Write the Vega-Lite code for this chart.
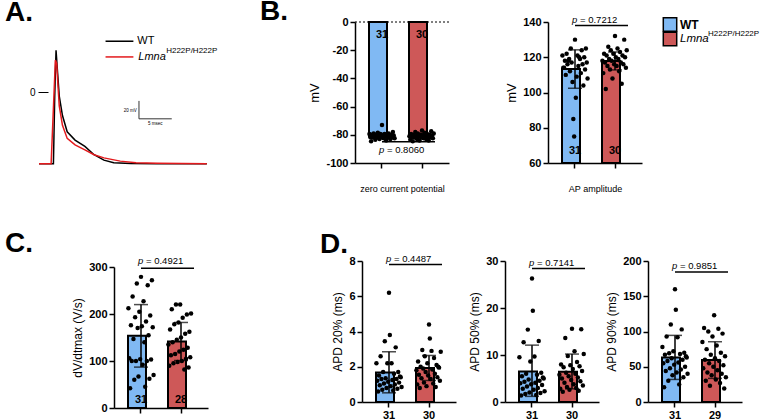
{
"$schema":"https://vega.github.io/schema/vega-lite/v6.json",
"padding":{"left":5,"top":-2,"right":2,"bottom":2},
"config":{
 "font":"Liberation Sans",
 "view":{"stroke":null},
 "axis":{"domainColor":"black","domainWidth":1.5,"tickColor":"black","tickWidth":1.5,"tickSize":5,"labelColor":"black","labelFontSize":11,"labelFontWeight":"bold","labelPadding":2,"labelOverlap":false,"titleColor":"black","titleFontSize":12,"titleFontWeight":"normal","grid":false},
 "title":{"fontSize":28,"fontWeight":"bold","anchor":"start","frame":"group","offset":0,"color":"black"}
},
"datasets":{
 "trace":[
  {"s":"WT","t":0,"v":-81.5},{"s":"WT","t":2.2,"v":-81.5},{"s":"WT","t":2.4,"v":-4.3},{"s":"WT","t":2.6,"v":47.7},{"s":"WT","t":2.84,"v":21.7},{"s":"WT","t":3.09,"v":-4.3},{"s":"WT","t":3.58,"v":-26.6},{"s":"WT","t":4.3,"v":-45.1},{"s":"WT","t":5.5,"v":-54.5},{"s":"WT","t":7.0,"v":-61.8},{"s":"WT","t":8.4,"v":-71.2},{"s":"WT","t":9.9,"v":-77.4},{"s":"WT","t":11.4,"v":-80.4},{"s":"WT","t":14,"v":-81.2},{"s":"WT","t":18,"v":-81.5},{"s":"WT","t":25.6,"v":-81.5},
  {"s":"Lmna","t":0,"v":-81.5},{"s":"Lmna","t":1.85,"v":-81.5},{"s":"Lmna","t":2.5,"v":36.6},{"s":"Lmna","t":2.7,"v":32.9},{"s":"Lmna","t":2.84,"v":14.3},{"s":"Lmna","t":3.09,"v":-15.5},{"s":"Lmna","t":3.58,"v":-37.7},{"s":"Lmna","t":4.3,"v":-52.6},{"s":"Lmna","t":5.5,"v":-60},{"s":"Lmna","t":7.0,"v":-65.6},{"s":"Lmna","t":8.4,"v":-71.2},{"s":"Lmna","t":9.9,"v":-74.8},{"s":"Lmna","t":12.4,"v":-78.5},{"s":"Lmna","t":14.8,"v":-80.4},{"s":"Lmna","t":18,"v":-81},{"s":"Lmna","t":25.6,"v":-81.5}
 ],
 "sum":[
  {"p":"B1","g":"WT","m":-81,"lo":-83,"hi":-79,"n":"31"},{"p":"B1","g":"Lmna","m":-81,"lo":-82.9,"hi":-79.1,"n":"30"},
  {"p":"B2","g":"WT","m":113.3,"lo":102.4,"hi":124.2,"n":"31"},{"p":"B2","g":"Lmna","m":117.9,"lo":112.8,"hi":123,"n":"30"},
  {"p":"C","g":"WT","m":153.5,"lo":87,"hi":220,"n":"31"},{"p":"C","g":"Lmna","m":141.5,"lo":101,"hi":182,"n":"28"},
  {"p":"D1","g":"WT","m":1.67,"lo":0.52,"hi":2.85,"n":"31"},{"p":"D1","g":"Lmna","m":1.93,"lo":1.22,"hi":2.64,"n":"30"},
  {"p":"D2","g":"WT","m":6.5,"lo":1.2,"hi":12.1,"n":"31"},{"p":"D2","g":"Lmna","m":6.45,"lo":2.8,"hi":10.2,"n":"30"},
  {"p":"D3","g":"WT","m":63,"lo":32,"hi":94.5,"n":"31"},{"p":"D3","g":"Lmna","m":59.5,"lo":33.5,"hi":85.5,"n":"29"}
 ],
 "pts":[
  {"p":"B1","g":"WT","v":-79.5},{"p":"B1","g":"WT","v":-81.5},{"p":"B1","g":"WT","v":-84.5},{"p":"B1","g":"WT","v":-80},{"p":"B1","g":"WT","v":-82},{"p":"B1","g":"WT","v":-79},{"p":"B1","g":"WT","v":-81},{"p":"B1","g":"WT","v":-83.5},{"p":"B1","g":"WT","v":-80},{"p":"B1","g":"WT","v":-82},{"p":"B1","g":"WT","v":-78.5},{"p":"B1","g":"WT","v":-81},{"p":"B1","g":"WT","v":-83},{"p":"B1","g":"WT","v":-79.5},{"p":"B1","g":"WT","v":-81.5},{"p":"B1","g":"WT","v":-73},{"p":"B1","g":"WT","v":-80.5},{"p":"B1","g":"WT","v":-82.5},{"p":"B1","g":"WT","v":-79.5},{"p":"B1","g":"WT","v":-81},{"p":"B1","g":"WT","v":-84},{"p":"B1","g":"WT","v":-80},{"p":"B1","g":"WT","v":-82},{"p":"B1","g":"WT","v":-79},{"p":"B1","g":"WT","v":-81},{"p":"B1","g":"WT","v":-83},{"p":"B1","g":"WT","v":-80},{"p":"B1","g":"WT","v":-82},{"p":"B1","g":"WT","v":-78},{"p":"B1","g":"WT","v":-80.5},{"p":"B1","g":"WT","v":-82.5},
  {"p":"B1","g":"Lmna","v":-81},{"p":"B1","g":"Lmna","v":-83.5},{"p":"B1","g":"Lmna","v":-79.5},{"p":"B1","g":"Lmna","v":-81.5},{"p":"B1","g":"Lmna","v":-84.5},{"p":"B1","g":"Lmna","v":-80},{"p":"B1","g":"Lmna","v":-82},{"p":"B1","g":"Lmna","v":-78},{"p":"B1","g":"Lmna","v":-81},{"p":"B1","g":"Lmna","v":-83},{"p":"B1","g":"Lmna","v":-79},{"p":"B1","g":"Lmna","v":-81},{"p":"B1","g":"Lmna","v":-84},{"p":"B1","g":"Lmna","v":-80},{"p":"B1","g":"Lmna","v":-82},{"p":"B1","g":"Lmna","v":-77},{"p":"B1","g":"Lmna","v":-80.5},{"p":"B1","g":"Lmna","v":-82.5},{"p":"B1","g":"Lmna","v":-78.5},{"p":"B1","g":"Lmna","v":-81},{"p":"B1","g":"Lmna","v":-83},{"p":"B1","g":"Lmna","v":-79.5},{"p":"B1","g":"Lmna","v":-81.5},{"p":"B1","g":"Lmna","v":-84},{"p":"B1","g":"Lmna","v":-80},{"p":"B1","g":"Lmna","v":-82},{"p":"B1","g":"Lmna","v":-77.5},{"p":"B1","g":"Lmna","v":-80.5},{"p":"B1","g":"Lmna","v":-82.5},{"p":"B1","g":"Lmna","v":-79},
  {"p":"B2","g":"WT","v":121},{"p":"B2","g":"WT","v":114},{"p":"B2","g":"WT","v":114},{"p":"B2","g":"WT","v":118},{"p":"B2","g":"WT","v":110},{"p":"B2","g":"WT","v":122},{"p":"B2","g":"WT","v":116},{"p":"B2","g":"WT","v":118},{"p":"B2","g":"WT","v":119},{"p":"B2","g":"WT","v":112},{"p":"B2","g":"WT","v":125},{"p":"B2","g":"WT","v":117},{"p":"B2","g":"WT","v":106},{"p":"B2","g":"WT","v":85},{"p":"B2","g":"WT","v":75},{"p":"B2","g":"WT","v":130},{"p":"B2","g":"WT","v":97},{"p":"B2","g":"WT","v":109},{"p":"B2","g":"WT","v":121},{"p":"B2","g":"WT","v":115},{"p":"B2","g":"WT","v":120},{"p":"B2","g":"WT","v":119},{"p":"B2","g":"WT","v":111},{"p":"B2","g":"WT","v":124},{"p":"B2","g":"WT","v":116},{"p":"B2","g":"WT","v":104},{"p":"B2","g":"WT","v":120},{"p":"B2","g":"WT","v":113},{"p":"B2","g":"WT","v":125},{"p":"B2","g":"WT","v":117},{"p":"B2","g":"WT","v":108},
  {"p":"B2","g":"Lmna","v":118},{"p":"B2","g":"Lmna","v":111},{"p":"B2","g":"Lmna","v":122},{"p":"B2","g":"Lmna","v":117},{"p":"B2","g":"Lmna","v":102},{"p":"B2","g":"Lmna","v":121},{"p":"B2","g":"Lmna","v":115},{"p":"B2","g":"Lmna","v":126},{"p":"B2","g":"Lmna","v":119},{"p":"B2","g":"Lmna","v":113},{"p":"B2","g":"Lmna","v":124},{"p":"B2","g":"Lmna","v":118},{"p":"B2","g":"Lmna","v":108},{"p":"B2","g":"Lmna","v":122},{"p":"B2","g":"Lmna","v":116},{"p":"B2","g":"Lmna","v":132},{"p":"B2","g":"Lmna","v":120},{"p":"B2","g":"Lmna","v":115},{"p":"B2","g":"Lmna","v":125},{"p":"B2","g":"Lmna","v":119},{"p":"B2","g":"Lmna","v":112},{"p":"B2","g":"Lmna","v":123},{"p":"B2","g":"Lmna","v":117},{"p":"B2","g":"Lmna","v":105},{"p":"B2","g":"Lmna","v":121},{"p":"B2","g":"Lmna","v":116},{"p":"B2","g":"Lmna","v":130},{"p":"B2","g":"Lmna","v":120},{"p":"B2","g":"Lmna","v":114},{"p":"B2","g":"Lmna","v":124},
  {"p":"C","g":"WT","v":212},{"p":"C","g":"WT","v":106},{"p":"C","g":"WT","v":42},{"p":"C","g":"WT","v":176},{"p":"C","g":"WT","v":100},{"p":"C","g":"WT","v":237},{"p":"C","g":"WT","v":147},{"p":"C","g":"WT","v":60},{"p":"C","g":"WT","v":193},{"p":"C","g":"WT","v":100},{"p":"C","g":"WT","v":265},{"p":"C","g":"WT","v":170},{"p":"C","g":"WT","v":67},{"p":"C","g":"WT","v":205},{"p":"C","g":"WT","v":104},{"p":"C","g":"WT","v":279},{"p":"C","g":"WT","v":174},{"p":"C","g":"WT","v":92},{"p":"C","g":"WT","v":227},{"p":"C","g":"WT","v":140},{"p":"C","g":"WT","v":45},{"p":"C","g":"WT","v":184},{"p":"C","g":"WT","v":100},{"p":"C","g":"WT","v":261},{"p":"C","g":"WT","v":155},{"p":"C","g":"WT","v":62},{"p":"C","g":"WT","v":197},{"p":"C","g":"WT","v":103},{"p":"C","g":"WT","v":272},{"p":"C","g":"WT","v":172},{"p":"C","g":"WT","v":70},
  {"p":"C","g":"Lmna","v":135},{"p":"C","g":"Lmna","v":90},{"p":"C","g":"Lmna","v":167},{"p":"C","g":"Lmna","v":112},{"p":"C","g":"Lmna","v":210},{"p":"C","g":"Lmna","v":140},{"p":"C","g":"Lmna","v":95},{"p":"C","g":"Lmna","v":178},{"p":"C","g":"Lmna","v":115},{"p":"C","g":"Lmna","v":220},{"p":"C","g":"Lmna","v":145},{"p":"C","g":"Lmna","v":98},{"p":"C","g":"Lmna","v":182},{"p":"C","g":"Lmna","v":120},{"p":"C","g":"Lmna","v":220},{"p":"C","g":"Lmna","v":150},{"p":"C","g":"Lmna","v":100},{"p":"C","g":"Lmna","v":192},{"p":"C","g":"Lmna","v":124},{"p":"C","g":"Lmna","v":82},{"p":"C","g":"Lmna","v":158},{"p":"C","g":"Lmna","v":105},{"p":"C","g":"Lmna","v":199},{"p":"C","g":"Lmna","v":128},{"p":"C","g":"Lmna","v":86},{"p":"C","g":"Lmna","v":162},{"p":"C","g":"Lmna","v":108},{"p":"C","g":"Lmna","v":201},
  {"p":"D1","g":"WT","v":2.2},{"p":"D1","g":"WT","v":1.2},{"p":"D1","g":"WT","v":0.6},{"p":"D1","g":"WT","v":1.5},{"p":"D1","g":"WT","v":0.95},{"p":"D1","g":"WT","v":2.6},{"p":"D1","g":"WT","v":1.3},{"p":"D1","g":"WT","v":0.7},{"p":"D1","g":"WT","v":1.7},{"p":"D1","g":"WT","v":1.05},{"p":"D1","g":"WT","v":3.45},{"p":"D1","g":"WT","v":1.35},{"p":"D1","g":"WT","v":0.8},{"p":"D1","g":"WT","v":2.2},{"p":"D1","g":"WT","v":1.15},{"p":"D1","g":"WT","v":6.2},{"p":"D1","g":"WT","v":3.8},{"p":"D1","g":"WT","v":0.9},{"p":"D1","g":"WT","v":2.2},{"p":"D1","g":"WT","v":1.25},{"p":"D1","g":"WT","v":0.65},{"p":"D1","g":"WT","v":1.6},{"p":"D1","g":"WT","v":1.0},{"p":"D1","g":"WT","v":3.1},{"p":"D1","g":"WT","v":1.3},{"p":"D1","g":"WT","v":0.75},{"p":"D1","g":"WT","v":1.7},{"p":"D1","g":"WT","v":1.1},{"p":"D1","g":"WT","v":1.45},{"p":"D1","g":"WT","v":1.4},{"p":"D1","g":"WT","v":0.85},
  {"p":"D1","g":"Lmna","v":1.8},{"p":"D1","g":"Lmna","v":1.0},{"p":"D1","g":"Lmna","v":2.3},{"p":"D1","g":"Lmna","v":1.55},{"p":"D1","g":"Lmna","v":0.8},{"p":"D1","g":"Lmna","v":2.0},{"p":"D1","g":"Lmna","v":1.35},{"p":"D1","g":"Lmna","v":2.95},{"p":"D1","g":"Lmna","v":1.9},{"p":"D1","g":"Lmna","v":1.1},{"p":"D1","g":"Lmna","v":2.6},{"p":"D1","g":"Lmna","v":1.7},{"p":"D1","g":"Lmna","v":0.9},{"p":"D1","g":"Lmna","v":2.2},{"p":"D1","g":"Lmna","v":1.5},{"p":"D1","g":"Lmna","v":4.4},{"p":"D1","g":"Lmna","v":3.6},{"p":"D1","g":"Lmna","v":1.3},{"p":"D1","g":"Lmna","v":2.9},{"p":"D1","g":"Lmna","v":1.85},{"p":"D1","g":"Lmna","v":1.05},{"p":"D1","g":"Lmna","v":2.5},{"p":"D1","g":"Lmna","v":1.6},{"p":"D1","g":"Lmna","v":0.85},{"p":"D1","g":"Lmna","v":2.1},{"p":"D1","g":"Lmna","v":1.4},{"p":"D1","g":"Lmna","v":2.0},{"p":"D1","g":"Lmna","v":1.95},{"p":"D1","g":"Lmna","v":1.2},{"p":"D1","g":"Lmna","v":2.85},
  {"p":"D2","g":"WT","v":9.5},{"p":"D2","g":"WT","v":4.0},{"p":"D2","g":"WT","v":1.4},{"p":"D2","g":"WT","v":5.5},{"p":"D2","g":"WT","v":2.8},{"p":"D2","g":"WT","v":12.7},{"p":"D2","g":"WT","v":4.3},{"p":"D2","g":"WT","v":1.7},{"p":"D2","g":"WT","v":6.0},{"p":"D2","g":"WT","v":3.3},{"p":"D2","g":"WT","v":15.4},{"p":"D2","g":"WT","v":4.8},{"p":"D2","g":"WT","v":2.0},{"p":"D2","g":"WT","v":8.6},{"p":"D2","g":"WT","v":3.8},{"p":"D2","g":"WT","v":26.3},{"p":"D2","g":"WT","v":19.4},{"p":"D2","g":"WT","v":2.6},{"p":"D2","g":"WT","v":9.7},{"p":"D2","g":"WT","v":4.1},{"p":"D2","g":"WT","v":1.5},{"p":"D2","g":"WT","v":5.8},{"p":"D2","g":"WT","v":3.0},{"p":"D2","g":"WT","v":13.0},{"p":"D2","g":"WT","v":4.5},{"p":"D2","g":"WT","v":1.9},{"p":"D2","g":"WT","v":6.2},{"p":"D2","g":"WT","v":3.6},{"p":"D2","g":"WT","v":5.2},{"p":"D2","g":"WT","v":5.0},{"p":"D2","g":"WT","v":2.3},
  {"p":"D2","g":"Lmna","v":5.8},{"p":"D2","g":"Lmna","v":2.8},{"p":"D2","g":"Lmna","v":8.0},{"p":"D2","g":"Lmna","v":5.0},{"p":"D2","g":"Lmna","v":2.2},{"p":"D2","g":"Lmna","v":7.4},{"p":"D2","g":"Lmna","v":4.1},{"p":"D2","g":"Lmna","v":13.6},{"p":"D2","g":"Lmna","v":6.2},{"p":"D2","g":"Lmna","v":3.2},{"p":"D2","g":"Lmna","v":9.8},{"p":"D2","g":"Lmna","v":5.5},{"p":"D2","g":"Lmna","v":2.6},{"p":"D2","g":"Lmna","v":7.8},{"p":"D2","g":"Lmna","v":4.7},{"p":"D2","g":"Lmna","v":15.6},{"p":"D2","g":"Lmna","v":7.0},{"p":"D2","g":"Lmna","v":3.8},{"p":"D2","g":"Lmna","v":10.8},{"p":"D2","g":"Lmna","v":6.0},{"p":"D2","g":"Lmna","v":3.0},{"p":"D2","g":"Lmna","v":8.5},{"p":"D2","g":"Lmna","v":5.2},{"p":"D2","g":"Lmna","v":2.4},{"p":"D2","g":"Lmna","v":7.6},{"p":"D2","g":"Lmna","v":4.4},{"p":"D2","g":"Lmna","v":15.5},{"p":"D2","g":"Lmna","v":6.6},{"p":"D2","g":"Lmna","v":3.5},{"p":"D2","g":"Lmna","v":10.2},
  {"p":"D3","g":"WT","v":78},{"p":"D3","g":"WT","v":55},{"p":"D3","g":"WT","v":21},{"p":"D3","g":"WT","v":67},{"p":"D3","g":"WT","v":44},{"p":"D3","g":"WT","v":93},{"p":"D3","g":"WT","v":58},{"p":"D3","g":"WT","v":30},{"p":"D3","g":"WT","v":69},{"p":"D3","g":"WT","v":48},{"p":"D3","g":"WT","v":110},{"p":"D3","g":"WT","v":62},{"p":"D3","g":"WT","v":38},{"p":"D3","g":"WT","v":72},{"p":"D3","g":"WT","v":53},{"p":"D3","g":"WT","v":160},{"p":"D3","g":"WT","v":131},{"p":"D3","g":"WT","v":42},{"p":"D3","g":"WT","v":92},{"p":"D3","g":"WT","v":56},{"p":"D3","g":"WT","v":25},{"p":"D3","g":"WT","v":68},{"p":"D3","g":"WT","v":46},{"p":"D3","g":"WT","v":103},{"p":"D3","g":"WT","v":60},{"p":"D3","g":"WT","v":35},{"p":"D3","g":"WT","v":70},{"p":"D3","g":"WT","v":50},{"p":"D3","g":"WT","v":65},{"p":"D3","g":"WT","v":63},{"p":"D3","g":"WT","v":40},
  {"p":"D3","g":"Lmna","v":85},{"p":"D3","g":"Lmna","v":48},{"p":"D3","g":"Lmna","v":105},{"p":"D3","g":"Lmna","v":60},{"p":"D3","g":"Lmna","v":30},{"p":"D3","g":"Lmna","v":75},{"p":"D3","g":"Lmna","v":42},{"p":"D3","g":"Lmna","v":100},{"p":"D3","g":"Lmna","v":55},{"p":"D3","g":"Lmna","v":23},{"p":"D3","g":"Lmna","v":67},{"p":"D3","g":"Lmna","v":38},{"p":"D3","g":"Lmna","v":93},{"p":"D3","g":"Lmna","v":50},{"p":"D3","g":"Lmna","v":123},{"p":"D3","g":"Lmna","v":62},{"p":"D3","g":"Lmna","v":32},{"p":"D3","g":"Lmna","v":80},{"p":"D3","g":"Lmna","v":45},{"p":"D3","g":"Lmna","v":104},{"p":"D3","g":"Lmna","v":58},{"p":"D3","g":"Lmna","v":27},{"p":"D3","g":"Lmna","v":70},{"p":"D3","g":"Lmna","v":40},{"p":"D3","g":"Lmna","v":97},{"p":"D3","g":"Lmna","v":52},{"p":"D3","g":"Lmna","v":19},{"p":"D3","g":"Lmna","v":65},{"p":"D3","g":"Lmna","v":35}
 ]
},
"spacing":36,
"vconcat":[
 {"spacing":0,"bounds":"flush","hconcat":[
  {"width":295,"height":158,
   "title":{"text":"A.","dx":-34,"dy":31,"baseline":"alphabetic"},
   "layer":[
    {"data":{"name":"trace"},"mark":{"type":"line","strokeWidth":1.5},
     "encoding":{"x":{"field":"t","type":"quantitative","scale":{"domain":[0,43.38]},"axis":null},
      "y":{"field":"v","type":"quantitative","scale":{"domain":[-96,80]},"axis":{"values":[0],"tickCount":20,"domain":false,"tickSize":10,"tickWidth":1,"offset":-9,"labelFontWeight":"normal","labelFontSize":10,"labelPadding":3,"title":null}},
      "stroke":{"field":"s","type":"nominal","scale":{"domain":["WT","Lmna"],"range":["black","#e3191c"]},"legend":null},
      "order":{"field":"t","type":"quantitative"}}},
    {"data":{"values":[{}]},"mark":{"type":"rule","color":"black","strokeWidth":1.5},"encoding":{"x":{"datum":10.15,"axis":null},"x2":{"datum":14.4},"y":{"datum":58.1}}},
    {"data":{"values":[{}]},"mark":{"type":"rule","color":"#e3191c","strokeWidth":1.5},"encoding":{"x":{"datum":10.15,"axis":null},"x2":{"datum":14.4},"y":{"datum":40.2}}},
    {"data":{"values":[{}]},"mark":{"type":"text","text":"WT","align":"left","baseline":"middle","fontSize":11},"encoding":{"x":{"datum":15.0,"axis":null},"y":{"datum":58.1}}},
    {"data":{"values":[{}]},"mark":{"type":"text","text":"Lmna","align":"left","baseline":"middle","fontSize":11,"fontStyle":"italic"},"encoding":{"x":{"datum":15.15,"axis":null},"y":{"datum":40.2}}},
    {"data":{"values":[{}]},"mark":{"type":"text","text":"H222P/H222P","align":"left","baseline":"middle","fontSize":8},"encoding":{"x":{"datum":19.4,"axis":null},"y":{"datum":47.1}}},
    {"data":{"values":[{}]},"mark":{"type":"rule","color":"#333333","strokeWidth":1},"encoding":{"x":{"datum":15.25,"axis":null},"y":{"datum":-9.9},"y2":{"datum":-30.3}}},
    {"data":{"values":[{}]},"mark":{"type":"rule","color":"#333333","strokeWidth":1},"encoding":{"x":{"datum":15.25,"axis":null},"x2":{"datum":20.25},"y":{"datum":-30.3}}},
    {"data":{"values":[{}]},"mark":{"type":"text","text":"20 mV","align":"right","baseline":"middle","fontSize":4.5},"encoding":{"x":{"datum":14.9,"axis":null},"y":{"datum":-21.4}}},
    {"data":{"values":[{}]},"mark":{"type":"text","text":"5 msec","align":"center","baseline":"middle","fontSize":4.5},"encoding":{"x":{"datum":17.75,"axis":null},"y":{"datum":-35.9}}}
   ]},
  {"width":21,"height":1,"data":{"values":[{}]},"mark":{"type":"point","opacity":0},"encoding":{}},
  {"width":94,"height":141,
    "title":{"text":"B.","dx":-95,"dy":36,"baseline":"alphabetic"},
    "layer":[
     {"data":{"name":"sum"},"transform":[{"filter":"datum.p=='B1'"}],"mark":{"type":"bar","stroke":"black","strokeWidth":2},
      "encoding":{"x":{"field":"g","type":"nominal","scale":{"domain":["WT","Lmna"],"paddingInner":0.35,"paddingOuter":0.35},"axis":{"labels":false,"title":"zero current potential","titleFontSize":9,"titlePadding":16}},
       "y":{"field":"m","type":"quantitative","scale":{"domain":[-100,0]},"axis":{"values":[-100,-80,-60,-40,-20,0],"tickCount":20,"format":"d","title":"mV","titleFontSize":13,"labelExpr":"replace(datum.label,'\u2212','-')"}},
       "fill":{"field":"g","type":"nominal","scale":{"domain":["WT","Lmna"],"range":["#80b9f3","#ce5858"]},"legend":null}}},
     {"data":{"values":[{}]},"mark":{"type":"rule","color":"black","strokeWidth":1,"strokeDash":[2,2]},"encoding":{"y":{"datum":0}}},
     {"data":{"name":"pts"},"transform":[{"filter":"datum.p=='B1'"},{"window":[{"op":"row_number","as":"i"}],"groupby":["g"]}],"mark":{"type":"circle","size":20,"color":"black","opacity":1},
      "encoding":{"x":{"field":"g","type":"nominal"},"xOffset":{"field":"i","type":"nominal"},"y":{"field":"v","type":"quantitative"}}},
     {"data":{"name":"sum"},"transform":[{"filter":"datum.p=='B1'"}],"mark":{"type":"rule","color":"black","strokeWidth":1.5},"encoding":{"x":{"field":"g","type":"nominal"},"y":{"field":"lo","type":"quantitative"},"y2":{"field":"hi"}}},
     {"data":{"name":"sum"},"transform":[{"filter":"datum.p=='B1'"}],"mark":{"type":"tick","orient":"horizontal","color":"black","thickness":1.5,"size":14},"encoding":{"x":{"field":"g","type":"nominal"},"y":{"field":"lo","type":"quantitative"}}},
     {"data":{"name":"sum"},"transform":[{"filter":"datum.p=='B1'"}],"mark":{"type":"tick","orient":"horizontal","color":"black","thickness":1.5,"size":14},"encoding":{"x":{"field":"g","type":"nominal"},"y":{"field":"hi","type":"quantitative"}}},
     {"data":{"name":"sum"},"transform":[{"filter":"datum.p=='B1'"}],"mark":{"type":"text","fontWeight":"bold","fontSize":11,"baseline":"alphabetic","dy":16},"encoding":{"x":{"field":"g","type":"nominal"},"y":{"datum":0},"text":{"field":"n"}}},
     {"data":{"values":[{}]},"mark":{"type":"rule","color":"black","strokeWidth":1.5,"x2Offset":13},"encoding":{"x":{"datum":"WT"},"x2":{"datum":"Lmna"},"y":{"datum":-85}}},
     {"data":{"values":[{}]},"mark":{"type":"text","text":"p","fontStyle":"italic","fontSize":9.5,"align":"left","baseline":"alphabetic","dx":-3,"dy":11},"encoding":{"x":{"datum":"WT"},"y":{"datum":-85}}},
     {"data":{"values":[{}]},"mark":{"type":"text","text":"= 0.8060","fontSize":9.5,"align":"left","baseline":"alphabetic","dx":5,"dy":11},"encoding":{"x":{"datum":"WT"},"y":{"datum":-85}}}
    ]},
  {"width":99,"height":1,"data":{"values":[{}]},"mark":{"type":"point","opacity":0},"encoding":{}},
  {"width":94,"height":141,
    "layer":[
     {"data":{"name":"sum"},"transform":[{"filter":"datum.p=='B2'"}],"mark":{"type":"bar","stroke":"black","strokeWidth":2},
      "encoding":{"x":{"field":"g","type":"nominal","scale":{"domain":["WT","Lmna"],"paddingInner":0.35,"paddingOuter":0.35},"axis":{"labels":false,"title":"AP amplitude","titleFontSize":9,"titlePadding":16}},
       "y":{"field":"m","type":"quantitative","scale":{"domain":[60,140]},"axis":{"values":[60,80,100,120,140],"tickCount":20,"format":"d","title":"mV","titleFontSize":13}},
       "y2":{"datum":60},
       "fill":{"field":"g","type":"nominal","scale":{"domain":["WT","Lmna"],"range":["#80b9f3","#ce5858"]},"legend":null}}},
     {"data":{"name":"pts"},"transform":[{"filter":"datum.p=='B2'"},{"window":[{"op":"row_number","as":"i"}],"groupby":["g"]}],"mark":{"type":"circle","size":20,"color":"black","opacity":1},
      "encoding":{"x":{"field":"g","type":"nominal"},"xOffset":{"field":"i","type":"nominal"},"y":{"field":"v","type":"quantitative"}}},
     {"data":{"name":"sum"},"transform":[{"filter":"datum.p=='B2'"}],"mark":{"type":"rule","color":"black","strokeWidth":1.5},"encoding":{"x":{"field":"g","type":"nominal"},"y":{"field":"lo","type":"quantitative"},"y2":{"field":"hi"}}},
     {"data":{"name":"sum"},"transform":[{"filter":"datum.p=='B2'"}],"mark":{"type":"tick","orient":"horizontal","color":"black","thickness":1.5,"size":14},"encoding":{"x":{"field":"g","type":"nominal"},"y":{"field":"lo","type":"quantitative"}}},
     {"data":{"name":"sum"},"transform":[{"filter":"datum.p=='B2'"}],"mark":{"type":"tick","orient":"horizontal","color":"black","thickness":1.5,"size":14},"encoding":{"x":{"field":"g","type":"nominal"},"y":{"field":"hi","type":"quantitative"}}},
     {"data":{"name":"sum"},"transform":[{"filter":"datum.p=='B2'"}],"mark":{"type":"text","fontWeight":"bold","fontSize":11,"baseline":"alphabetic","dy":-9},"encoding":{"x":{"field":"g","type":"nominal"},"y":{"datum":60},"text":{"field":"n"}}},
     {"data":{"values":[{}]},"mark":{"type":"rule","color":"black","strokeWidth":1.5,"x2Offset":13},"encoding":{"x":{"datum":"WT"},"x2":{"datum":"Lmna"},"y":{"datum":138}}},
     {"data":{"values":[{}]},"mark":{"type":"text","text":"p","fontStyle":"italic","fontSize":9.5,"align":"left","baseline":"alphabetic","dx":-3,"dy":-3},"encoding":{"x":{"datum":"WT"},"y":{"datum":138}}},
     {"data":{"values":[{}]},"mark":{"type":"text","text":"= 0.7212","fontSize":9.5,"align":"left","baseline":"alphabetic","dx":5,"dy":-3},"encoding":{"x":{"datum":"WT"},"y":{"datum":138}}}
    ]},
  {"width":21,"height":1,"data":{"values":[{}]},"mark":{"type":"point","opacity":0},"encoding":{}},
  {"width":100,"height":20,"data":{"values":[{}]},
   "layer":[
    {"mark":{"type":"square","size":180,"filled":true,"stroke":"black","strokeWidth":1.5,"opacity":1},"encoding":{"x":{"datum":7,"type":"quantitative","scale":{"domain":[0,100]},"axis":null},"y":{"datum":17.5,"type":"quantitative","scale":{"domain":[0,20]},"axis":null},"fill":{"datum":"WT","type":"nominal","scale":{"domain":["WT","Lmna"],"range":["#80b9f3","#ce5858"]},"legend":null}}},
    {"mark":{"type":"square","size":180,"filled":true,"stroke":"black","strokeWidth":1.5,"opacity":1},"encoding":{"x":{"datum":7,"axis":null},"y":{"datum":3,"axis":null},"fill":{"datum":"Lmna","type":"nominal","legend":null}}},
    {"mark":{"type":"text","text":"WT","align":"left","baseline":"middle","fontSize":12,"fontWeight":"bold"},"encoding":{"x":{"datum":17,"axis":null},"y":{"datum":17.5,"axis":null}}},
    {"mark":{"type":"text","text":"Lmna","align":"left","baseline":"middle","fontSize":11.5,"fontStyle":"italic"},"encoding":{"x":{"datum":17,"axis":null},"y":{"datum":3,"axis":null}}},
    {"mark":{"type":"text","text":"H222P/H222P","align":"left","baseline":"middle","fontSize":8},"encoding":{"x":{"datum":45,"axis":null},"y":{"datum":8,"axis":null}}}
   ]}
 ]},
 {"spacing":0,"bounds":"flush","hconcat":[
  {"width":75,"height":1,"data":{"values":[{}]},"mark":{"type":"point","opacity":0},"encoding":{}},
  {"width":94,"height":147,
     "title":{"text":"C.","dx":-109,"dy":28,"baseline":"alphabetic"},
     "layer":[
      {"data":{"name":"sum"},"transform":[{"filter":"datum.p=='C'"}],"mark":{"type":"bar","stroke":"black","strokeWidth":2},
       "encoding":{"x":{"field":"g","type":"nominal","scale":{"domain":["WT","Lmna"],"paddingInner":0.35,"paddingOuter":0.35},"axis":{"labels":false,"title":null}},
        "y":{"field":"m","type":"quantitative","scale":{"domain":[0,300],"range":[147,6]},"axis":{"values":[0,100,200,300],"tickCount":20,"format":"d","title":"dV/dtmax (V/s)"}},
        "fill":{"field":"g","type":"nominal","scale":{"domain":["WT","Lmna"],"range":["#80b9f3","#ce5858"]},"legend":null}}},
      {"data":{"name":"pts"},"transform":[{"filter":"datum.p=='C'"},{"window":[{"op":"row_number","as":"i"}],"groupby":["g"]}],"mark":{"type":"circle","size":20,"color":"black","opacity":1},
       "encoding":{"x":{"field":"g","type":"nominal"},"xOffset":{"field":"i","type":"nominal"},"y":{"field":"v","type":"quantitative"}}},
      {"data":{"name":"sum"},"transform":[{"filter":"datum.p=='C'"}],"mark":{"type":"rule","color":"black","strokeWidth":1.5},"encoding":{"x":{"field":"g","type":"nominal"},"y":{"field":"lo","type":"quantitative"},"y2":{"field":"hi"}}},
      {"data":{"name":"sum"},"transform":[{"filter":"datum.p=='C'"}],"mark":{"type":"tick","orient":"horizontal","color":"black","thickness":1.5,"size":14},"encoding":{"x":{"field":"g","type":"nominal"},"y":{"field":"lo","type":"quantitative"}}},
      {"data":{"name":"sum"},"transform":[{"filter":"datum.p=='C'"}],"mark":{"type":"tick","orient":"horizontal","color":"black","thickness":1.5,"size":14},"encoding":{"x":{"field":"g","type":"nominal"},"y":{"field":"hi","type":"quantitative"}}},
      {"data":{"name":"sum"},"transform":[{"filter":"datum.p=='C'"}],"mark":{"type":"text","fontWeight":"bold","fontSize":11,"baseline":"alphabetic","dy":-5},"encoding":{"x":{"field":"g","type":"nominal"},"y":{"datum":0},"text":{"field":"n"}}},
      {"data":{"values":[{}]},"mark":{"type":"rule","color":"black","strokeWidth":1.5,"x2Offset":13},"encoding":{"x":{"datum":"WT"},"x2":{"datum":"Lmna"},"y":{"datum":297.5}}},
      {"data":{"values":[{}]},"mark":{"type":"text","text":"p","fontStyle":"italic","fontSize":9.5,"align":"left","baseline":"alphabetic","dx":-3,"dy":-4},"encoding":{"x":{"datum":"WT"},"y":{"datum":297.5}}},
      {"data":{"values":[{}]},"mark":{"type":"text","text":"= 0.4921","fontSize":9.5,"align":"left","baseline":"alphabetic","dx":5,"dy":-4},"encoding":{"x":{"datum":"WT"},"y":{"datum":297.5}}}
     ]},
  {"width":154,"height":1,"data":{"values":[{}]},"mark":{"type":"point","opacity":0},"encoding":{}},
  {"width":94,"height":141,
    "title":{"text":"D.","dx":-42,"dy":31,"baseline":"alphabetic"},
    "layer":[
     {"data":{"name":"sum"},"transform":[{"filter":"datum.p=='D1'"}],"mark":{"type":"bar","stroke":"black","strokeWidth":2},
      "encoding":{"x":{"field":"g","type":"nominal","scale":{"domain":["WT","Lmna"],"paddingInner":0.35,"paddingOuter":0.35},"axis":{"title":null,"labelAngle":0,"labelPadding":2,"labelExpr":"datum.value=='WT'?'31':'30'"}},
       "y":{"field":"m","type":"quantitative","scale":{"domain":[0,8]},"axis":{"values":[0,2,4,6,8],"tickCount":20,"format":"d","title":"APD 20% (ms)"}},
       "fill":{"field":"g","type":"nominal","scale":{"domain":["WT","Lmna"],"range":["#80b9f3","#ce5858"]},"legend":null}}},
     {"data":{"name":"pts"},"transform":[{"filter":"datum.p=='D1'"},{"window":[{"op":"row_number","as":"i"}],"groupby":["g"]}],"mark":{"type":"circle","size":20,"color":"black","opacity":1},
      "encoding":{"x":{"field":"g","type":"nominal"},"xOffset":{"field":"i","type":"nominal"},"y":{"field":"v","type":"quantitative"}}},
     {"data":{"name":"sum"},"transform":[{"filter":"datum.p=='D1'"}],"mark":{"type":"rule","color":"black","strokeWidth":1.5},"encoding":{"x":{"field":"g","type":"nominal"},"y":{"field":"lo","type":"quantitative"},"y2":{"field":"hi"}}},
     {"data":{"name":"sum"},"transform":[{"filter":"datum.p=='D1'"}],"mark":{"type":"tick","orient":"horizontal","color":"black","thickness":1.5,"size":14},"encoding":{"x":{"field":"g","type":"nominal"},"y":{"field":"lo","type":"quantitative"}}},
     {"data":{"name":"sum"},"transform":[{"filter":"datum.p=='D1'"}],"mark":{"type":"tick","orient":"horizontal","color":"black","thickness":1.5,"size":14},"encoding":{"x":{"field":"g","type":"nominal"},"y":{"field":"hi","type":"quantitative"}}},
     {"data":{"values":[{}]},"mark":{"type":"rule","color":"black","strokeWidth":1.5,"x2Offset":13},"encoding":{"x":{"datum":"WT"},"x2":{"datum":"Lmna"},"y":{"datum":7.8}}},
     {"data":{"values":[{}]},"mark":{"type":"text","text":"p","fontStyle":"italic","fontSize":9.5,"align":"left","baseline":"alphabetic","dx":-3,"dy":-3},"encoding":{"x":{"datum":"WT"},"y":{"datum":7.8}}},
     {"data":{"values":[{}]},"mark":{"type":"text","text":"= 0.4487","fontSize":9.5,"align":"left","baseline":"alphabetic","dx":5,"dy":-3},"encoding":{"x":{"datum":"WT"},"y":{"datum":7.8}}}
    ]},
  {"width":49,"height":1,"data":{"values":[{}]},"mark":{"type":"point","opacity":0},"encoding":{}},
  {"width":94,"height":141,
    "layer":[
     {"data":{"name":"sum"},"transform":[{"filter":"datum.p=='D2'"}],"mark":{"type":"bar","stroke":"black","strokeWidth":2},
      "encoding":{"x":{"field":"g","type":"nominal","scale":{"domain":["WT","Lmna"],"paddingInner":0.35,"paddingOuter":0.35},"axis":{"title":null,"labelAngle":0,"labelPadding":2,"labelExpr":"datum.value=='WT'?'31':'30'"}},
       "y":{"field":"m","type":"quantitative","scale":{"domain":[0,30]},"axis":{"values":[0,10,20,30],"tickCount":20,"format":"d","title":"APD 50% (ms)"}},
       "fill":{"field":"g","type":"nominal","scale":{"domain":["WT","Lmna"],"range":["#80b9f3","#ce5858"]},"legend":null}}},
     {"data":{"name":"pts"},"transform":[{"filter":"datum.p=='D2'"},{"window":[{"op":"row_number","as":"i"}],"groupby":["g"]}],"mark":{"type":"circle","size":20,"color":"black","opacity":1},
      "encoding":{"x":{"field":"g","type":"nominal"},"xOffset":{"field":"i","type":"nominal"},"y":{"field":"v","type":"quantitative"}}},
     {"data":{"name":"sum"},"transform":[{"filter":"datum.p=='D2'"}],"mark":{"type":"rule","color":"black","strokeWidth":1.5},"encoding":{"x":{"field":"g","type":"nominal"},"y":{"field":"lo","type":"quantitative"},"y2":{"field":"hi"}}},
     {"data":{"name":"sum"},"transform":[{"filter":"datum.p=='D2'"}],"mark":{"type":"tick","orient":"horizontal","color":"black","thickness":1.5,"size":14},"encoding":{"x":{"field":"g","type":"nominal"},"y":{"field":"lo","type":"quantitative"}}},
     {"data":{"name":"sum"},"transform":[{"filter":"datum.p=='D2'"}],"mark":{"type":"tick","orient":"horizontal","color":"black","thickness":1.5,"size":14},"encoding":{"x":{"field":"g","type":"nominal"},"y":{"field":"hi","type":"quantitative"}}},
     {"data":{"values":[{}]},"mark":{"type":"rule","color":"black","strokeWidth":1.5,"x2Offset":13},"encoding":{"x":{"datum":"WT"},"x2":{"datum":"Lmna"},"y":{"datum":28.4}}},
     {"data":{"values":[{}]},"mark":{"type":"text","text":"p","fontStyle":"italic","fontSize":9.5,"align":"left","baseline":"alphabetic","dx":-3,"dy":-3},"encoding":{"x":{"datum":"WT"},"y":{"datum":28.4}}},
     {"data":{"values":[{}]},"mark":{"type":"text","text":"= 0.7141","fontSize":9.5,"align":"left","baseline":"alphabetic","dx":5,"dy":-3},"encoding":{"x":{"datum":"WT"},"y":{"datum":28.4}}}
    ]},
  {"width":49,"height":1,"data":{"values":[{}]},"mark":{"type":"point","opacity":0},"encoding":{}},
  {"width":94,"height":141,
    "layer":[
     {"data":{"name":"sum"},"transform":[{"filter":"datum.p=='D3'"}],"mark":{"type":"bar","stroke":"black","strokeWidth":2},
      "encoding":{"x":{"field":"g","type":"nominal","scale":{"domain":["WT","Lmna"],"paddingInner":0.35,"paddingOuter":0.35},"axis":{"title":null,"labelAngle":0,"labelPadding":2,"labelExpr":"datum.value=='WT'?'31':'29'"}},
       "y":{"field":"m","type":"quantitative","scale":{"domain":[0,200]},"axis":{"values":[0,50,100,150,200],"tickCount":20,"format":"d","title":"APD 90% (ms)"}},
       "fill":{"field":"g","type":"nominal","scale":{"domain":["WT","Lmna"],"range":["#80b9f3","#ce5858"]},"legend":null}}},
     {"data":{"name":"pts"},"transform":[{"filter":"datum.p=='D3'"},{"window":[{"op":"row_number","as":"i"}],"groupby":["g"]}],"mark":{"type":"circle","size":20,"color":"black","opacity":1},
      "encoding":{"x":{"field":"g","type":"nominal"},"xOffset":{"field":"i","type":"nominal"},"y":{"field":"v","type":"quantitative"}}},
     {"data":{"name":"sum"},"transform":[{"filter":"datum.p=='D3'"}],"mark":{"type":"rule","color":"black","strokeWidth":1.5},"encoding":{"x":{"field":"g","type":"nominal"},"y":{"field":"lo","type":"quantitative"},"y2":{"field":"hi"}}},
     {"data":{"name":"sum"},"transform":[{"filter":"datum.p=='D3'"}],"mark":{"type":"tick","orient":"horizontal","color":"black","thickness":1.5,"size":14},"encoding":{"x":{"field":"g","type":"nominal"},"y":{"field":"lo","type":"quantitative"}}},
     {"data":{"name":"sum"},"transform":[{"filter":"datum.p=='D3'"}],"mark":{"type":"tick","orient":"horizontal","color":"black","thickness":1.5,"size":14},"encoding":{"x":{"field":"g","type":"nominal"},"y":{"field":"hi","type":"quantitative"}}},
     {"data":{"values":[{}]},"mark":{"type":"rule","color":"black","strokeWidth":1.5,"x2Offset":13},"encoding":{"x":{"datum":"WT"},"x2":{"datum":"Lmna"},"y":{"datum":184.5}}},
     {"data":{"values":[{}]},"mark":{"type":"text","text":"p","fontStyle":"italic","fontSize":9.5,"align":"left","baseline":"alphabetic","dx":-3,"dy":-3},"encoding":{"x":{"datum":"WT"},"y":{"datum":184.5}}},
     {"data":{"values":[{}]},"mark":{"type":"text","text":"= 0.9851","fontSize":9.5,"align":"left","baseline":"alphabetic","dx":5,"dy":-3},"encoding":{"x":{"datum":"WT"},"y":{"datum":184.5}}}
    ]}
 ]}
]
}
